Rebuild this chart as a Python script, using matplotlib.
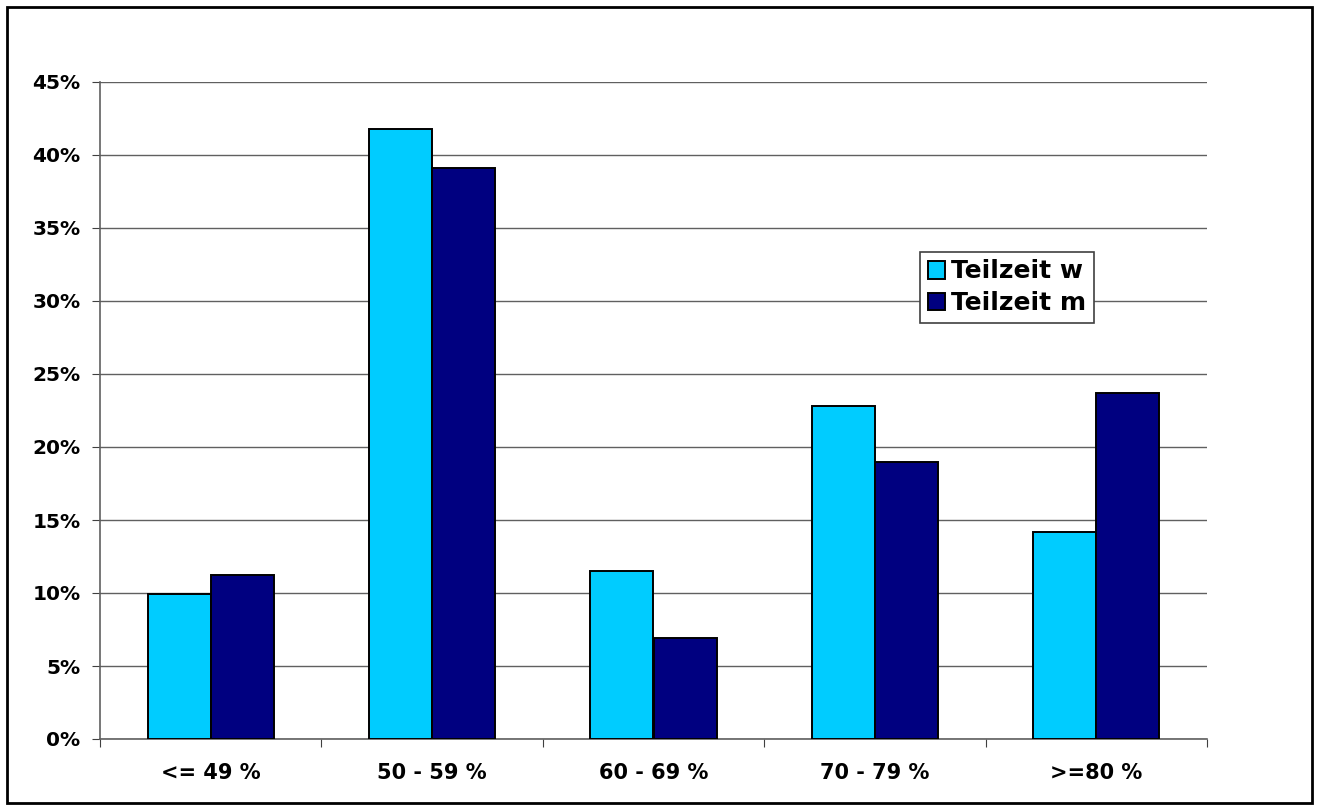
import matplotlib.pyplot as plt
import numpy as np
from matplotlib.patches import Rectangle
from matplotlib.ticker import PercentFormatter

categories = ['<= 49 %', '50 - 59 %', '60 - 69 %', '70 - 79 %', '>=80 %']
teilzeit_w = [9.9, 41.8, 11.5, 22.8, 14.2]
teilzeit_m = [11.25, 39.1, 6.95, 19.0, 23.7]
series_names = ['Teilzeit w', 'Teilzeit m']
colors = ['#00CCFF', '#000080']

plt.rcParams['font.family'] = 'DejaVu Sans'
plt.rcParams['font.weight'] = 'bold'

fig = plt.figure(figsize=(13.18, 8.09), dpi=100)
ax = fig.add_axes([100 / 1318, 1 - 739 / 809, 1107 / 1318, 657 / 809])

x = np.arange(len(categories))
w = 0.285
ax.bar(x - w / 2, teilzeit_w, w, color=colors[0], edgecolor='black', lw=1.4,
       label=series_names[0], zorder=3)
ax.bar(x + w / 2, teilzeit_m, w, color=colors[1], edgecolor='black', lw=1.4,
       label=series_names[1], zorder=3)

ax.set_xlim(-0.5, len(categories) - 0.5)
ax.set_ylim(0, 45)
ax.set_yticks(np.arange(0, 46, 5))
ax.yaxis.set_major_formatter(PercentFormatter(decimals=0))
ax.grid(axis='y', color='#606060', lw=1, zorder=0)

# category boundaries get the tick marks, labels sit in between
ax.set_xticks(np.arange(-0.5, len(categories), 1))
ax.set_xticklabels([])
ax.set_xticks(x, minor=True)
ax.set_xticklabels(categories, minor=True, fontsize=15, fontweight='bold')
ax.tick_params(axis='x', which='major', length=6, color='#404040', direction='out')
ax.tick_params(axis='x', which='minor', length=0, pad=17)
ax.tick_params(axis='y', length=6, pad=8, labelsize=14.5, color='#404040')

for s in ['top', 'right']:
    ax.spines[s].set_visible(False)
for s in ['left', 'bottom']:
    ax.spines[s].set_color('#606060')
    ax.spines[s].set_linewidth(1.2)

leg = ax.legend(loc='upper left', bbox_to_anchor=(820 / 1107, 1 - 170 / 657),
                prop={'weight': 'bold', 'size': 18},
                handlelength=0.7, handleheight=0.7, handletextpad=0.25,
                borderpad=0.3, labelspacing=0.3, borderaxespad=0,
                fancybox=False, framealpha=1, edgecolor='#404040')
leg.get_frame().set_linewidth(1.2)

fig.patches.append(Rectangle((7 / 1318, 6 / 809), 1305 / 1318, 796 / 809,
                             transform=fig.transFigure, fill=False,
                             edgecolor='black', lw=2))

fig.savefig('out.png', dpi=100)
